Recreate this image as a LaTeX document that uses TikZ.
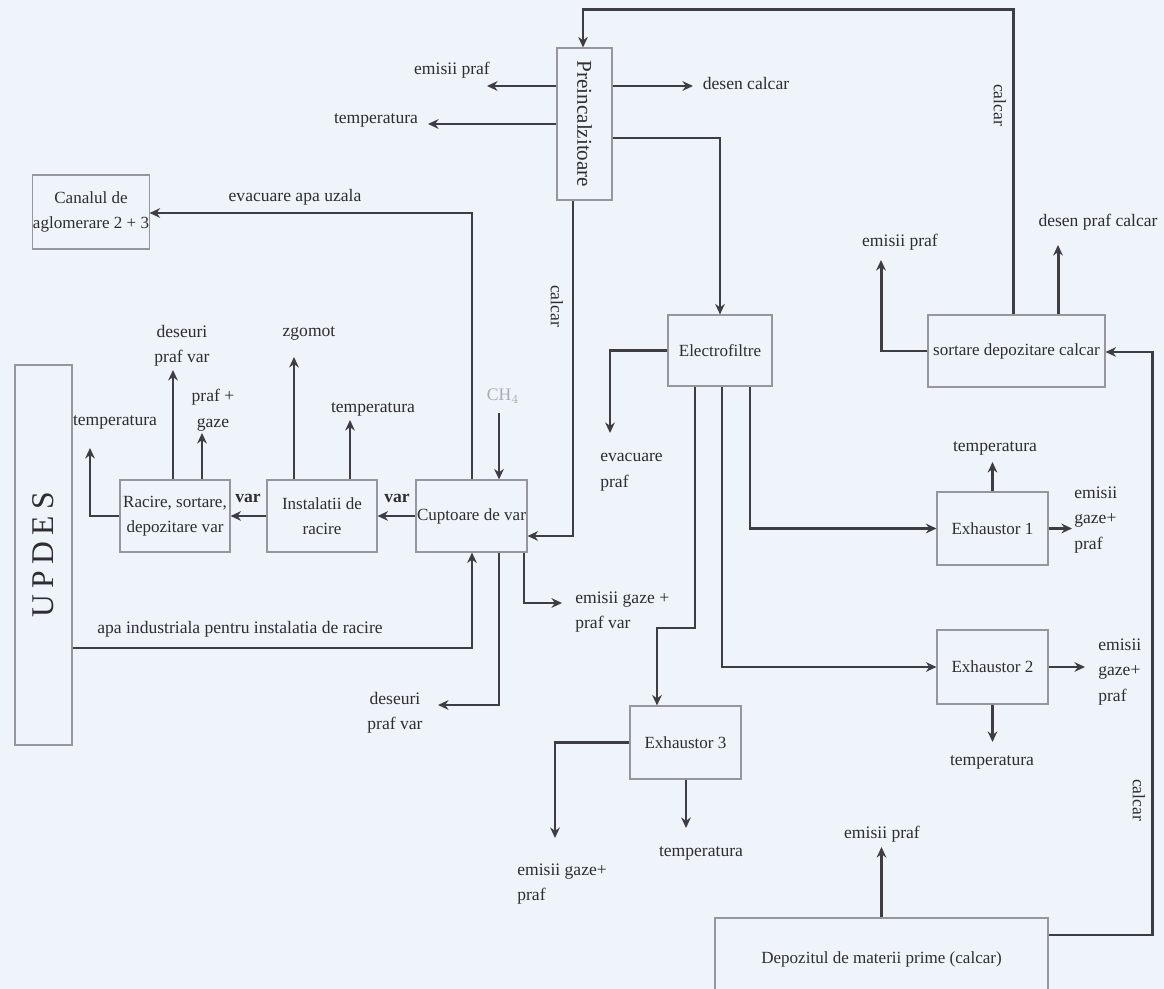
\documentclass[tikz,border=0pt]{standalone}
\usepackage{fontspec}
\setmainfont{Liberation Serif}
\usepackage{graphicx}
\usetikzlibrary{arrows.meta}
\definecolor{paperColor}{RGB}{239,243,250}
\definecolor{lineColor}{RGB}{62,62,66}
\definecolor{boxColor}{RGB}{150,150,156}
\definecolor{textColor}{RGB}{45,45,50}
\definecolor{faintColor}{RGB}{170,170,178}
\tikzstyle{sheet} = [x = .02cm, y = -.02cm]
\tikzstyle{processBox} = [draw=boxColor, line width=.6pt, fill=paperColor, inner sep=0pt, align=center, text=textColor, font=\fontsize{9.7}{14.5}\selectfont]
\tikzstyle{flowLine} = [color=lineColor, line width=1.7pt]
\tikzstyle{flowArrow} = [flowLine, -{Stealth[length=6pt, width=5.5pt]}]
\tikzstyle{flowLabel} = [text=textColor, inner sep=0pt, align=center, font=\fontsize{10}{14.5}\selectfont]
\tikzstyle{flowLabelLeft} = [flowLabel, align=left, anchor=west]
\tikzstyle{verticalLabel} = [flowLabel, rotate=-90]
\tikzset{boxSize/.style 2 args={minimum width=#1*.02cm, minimum height=#2*.02cm}}
\newcommand{\freeEnd}[2]{\coordinate (#1) at (#2);}

\begin{document}
\begin{tikzpicture}[sheet]
  \fill [paperColor] (0,0) rectangle (1164,989);
  \useasboundingbox (0,0) rectangle (1164,989);

  % boxes
  \node [processBox, boxSize={112}{74}] (canal) at (91,212) {Canalul de\\aglomerare 2 + 3};
  \node [processBox, boxSize={55}{152}] (preinc) at (584.5,124) {\rotatebox{-90}{\large Preincalzitoare}};
  \node [processBox, boxSize={177}{72}] (sortare) at (1016.5,351) {sortare depozitare calcar};
  \node [processBox, boxSize={104}{71}] (electro) at (720,350.5) {Electrofiltre};
  \node [processBox, boxSize={57}{380}] (updes) at (43.5,555) {\rotatebox{90}{\fontsize{18}{20}\selectfont U\hspace{.2em}P\hspace{.2em}D\hspace{.2em}E\hspace{.2em}S}};
  \node [processBox, boxSize={110}{72}] (racire) at (175,516) {Racire, sortare,\\depozitare var};
  \node [processBox, boxSize={110}{72}] (instal) at (322,516) {Instalatii de\\racire};
  \node [processBox, boxSize={111}{72}] (cuptor) at (471.5,516) {Cuptoare de var};
  \node [processBox, boxSize={111}{73}] (exhOne) at (992.5,528.5) {Exhaustor 1};
  \node [processBox, boxSize={111}{74}] (exhTwo) at (992.5,667) {Exhaustor 2};
  \node [processBox, boxSize={111}{73}] (exhThree) at (685.5,742.5) {Exhaustor 3};
  \node [processBox, boxSize={333}{82}] (depozit) at (881.5,959) {Depozitul de materii prime (calcar)};

  % turning points and free ends
  \freeEnd{feedRight}{1013,10}
  \freeEnd{feedLeft}{583,10}
  \freeEnd{preEmisiiTip}{487,86}
  \freeEnd{preTempTip}{428,124}
  \freeEnd{preDesenTip}{693,86}
  \freeEnd{preElectroTurn}{720,138}
  \freeEnd{calcarTurn}{573,536}
  \freeEnd{evacTurn}{472,213}
  \freeEnd{chStart}{499,413}
  \freeEnd{racTempTip}{90,448}
  \freeEnd{racDeseuriTip}{173,370}
  \freeEnd{racPrafTip}{202,433}
  \freeEnd{instZgomotTip}{294,357}
  \freeEnd{instTempTip}{350,420}
  \freeEnd{apaTurn}{472,648}
  \freeEnd{cupDeseuriTurn}{499,705}
  \freeEnd{cupDeseuriTip}{438,705}
  \freeEnd{cupEmisiiTurn}{524,603}
  \freeEnd{cupEmisiiTip}{562,603}
  \freeEnd{elEvacTip}{610,433}
  \freeEnd{exhThreeTurnA}{695,628}
  \freeEnd{exhThreeTurnB}{657,628}
  \freeEnd{exhTwoTurn}{722,667}
  \freeEnd{exhOneTurn}{750,528.5}
  \freeEnd{exhOneTempTip}{992.5,462}
  \freeEnd{exhOneGasTip}{1072,528.5}
  \freeEnd{exhTwoGasTip}{1085,667}
  \freeEnd{exhTwoTempTip}{992.5,742}
  \freeEnd{exhThreeGasTurn}{555,742.5}
  \freeEnd{exhThreeGasTip}{555,838}
  \freeEnd{exhThreeTempTip}{686,828}
  \freeEnd{sorEmisiiTip}{881,260}
  \freeEnd{sorDesenTip}{1058,245}
  \freeEnd{depEmisiiTip}{881.5,847}
  \freeEnd{depTurnA}{1152,935}
  \freeEnd{depTurnB}{1152,352}

  % flows
  \draw [flowArrow] (sortare.north -| feedRight) -- (feedRight) -- (feedLeft) -- (preinc.north -| feedLeft);
  \draw [flowArrow] (preinc.west |- preEmisiiTip) -- (preEmisiiTip);
  \draw [flowArrow] (preinc.west |- preTempTip) -- (preTempTip);
  \draw [flowArrow] (preinc.east |- preDesenTip) -- (preDesenTip);
  \draw [flowArrow] (preinc.east |- preElectroTurn) -- (preElectroTurn) -- (electro.north);
  \draw [flowArrow] (preinc.south -| calcarTurn) -- (calcarTurn) -- (cuptor.east |- calcarTurn);
  \draw [flowArrow] (cuptor.north -| evacTurn) -- (evacTurn) -- (canal.east |- evacTurn);
  \draw [flowArrow] (chStart) -- (cuptor.north -| chStart);
  \draw [flowArrow] (cuptor.west) -- (instal.east);
  \draw [flowArrow] (instal.west) -- (racire.east);
  \draw [flowArrow] (racire.west) -| (racTempTip);
  \draw [flowArrow] (racire.north -| racDeseuriTip) -- (racDeseuriTip);
  \draw [flowArrow] (racire.north -| racPrafTip) -- (racPrafTip);
  \draw [flowArrow] (instal.north -| instZgomotTip) -- (instZgomotTip);
  \draw [flowArrow] (instal.north -| instTempTip) -- (instTempTip);
  \draw [flowArrow] (updes.east |- apaTurn) -- (apaTurn) -- (cuptor.south -| apaTurn);
  \draw [flowArrow] (cuptor.south -| cupDeseuriTurn) -- (cupDeseuriTurn) -- (cupDeseuriTip);
  \draw [flowArrow] (cuptor.south -| cupEmisiiTurn) -- (cupEmisiiTurn) -- (cupEmisiiTip);
  \draw [flowArrow] (electro.west) -| (elEvacTip);
  \draw [flowArrow] (electro.south -| exhThreeTurnA) -- (exhThreeTurnA) -- (exhThreeTurnB) -- (exhThree.north -| exhThreeTurnB);
  \draw [flowArrow] (electro.south -| exhTwoTurn) -- (exhTwoTurn) -- (exhTwo.west);
  \draw [flowArrow] (electro.south -| exhOneTurn) -- (exhOneTurn) -- (exhOne.west);
  \draw [flowArrow] (exhOne.north) -- (exhOneTempTip);
  \draw [flowArrow] (exhOne.east) -- (exhOneGasTip);
  \draw [flowArrow] (exhTwo.east) -- (exhTwoGasTip);
  \draw [flowArrow] (exhTwo.south) -- (exhTwoTempTip);
  \draw [flowArrow] (exhThree.west) -- (exhThreeGasTurn) -- (exhThreeGasTip);
  \draw [flowArrow] (exhThree.south -| exhThreeTempTip) -- (exhThreeTempTip);
  \draw [flowArrow] (sortare.west) -| (sorEmisiiTip);
  \draw [flowArrow] (sortare.north -| sorDesenTip) -- (sorDesenTip);
  \draw [flowArrow] (depozit.north) -- (depEmisiiTip);
  \draw [flowArrow] (depozit.east |- depTurnA) -- (depTurnA) -- (depTurnB) -- (sortare.east |- depTurnB);

  % labels
  \node [verticalLabel] (feedText) at (1000,105) {calcar};
  \node [flowLabel] (preEmisiiText) at (452,70) {emisii praf};
  \node [flowLabel] (preTempText) at (376,120) {temperatura};
  \node [flowLabel] (preDesenText) at (746,83) {desen calcar};
  \node [verticalLabel] (calcarText) at (557,306) {calcar};
  \node [flowLabel] (evacText) at (295,197) {evacuare apa uzala};
  \node [flowLabel, text=faintColor] (chText) at (503,396) {CH$_4$};
  \node [flowLabel, font=\bfseries] (varRightText) at (397,498) {var};
  \node [flowLabel, font=\bfseries] (varLeftText) at (248,498) {var};
  \node [flowLabel] (racTempText) at (115,422) {temperatura};
  \node [flowLabel] (racDeseuriText) at (182,346) {deseuri\\praf var};
  \node [flowLabel] (racPrafText) at (213,410) {praf +\\gaze};
  \node [flowLabel] (instZgomotText) at (309,333) {zgomot};
  \node [flowLabel] (instTempText) at (373,409) {temperatura};
  \node [flowLabel] (apaText) at (240,629) {apa industriala pentru instalatia de racire};
  \node [flowLabel] (cupDeseuriText) at (395,713) {deseuri\\praf var};
  \node [flowLabelLeft] (cupEmisiiText) at (575,612) {emisii gaze +\\praf var};
  \node [flowLabelLeft] (elEvacText) at (600,472) {evacuare\\praf};
  \node [flowLabel] (exhOneTempText) at (995,448) {temperatura};
  \node [flowLabelLeft] (exhOneGasText) at (1074,520) {emisii\\gaze+\\praf};
  \node [flowLabelLeft] (exhTwoGasText) at (1098,672) {emisii\\gaze+\\praf};
  \node [flowLabel] (exhTwoTempText) at (992,762) {temperatura};
  \node [flowLabelLeft] (exhThreeGasText) at (517,884) {emisii gaze+\\praf};
  \node [flowLabel] (exhThreeTempText) at (701,853) {temperatura};
  \node [flowLabel] (sorEmisiiText) at (900,242) {emisii praf};
  \node [flowLabel] (sorDesenText) at (1098,222) {desen praf calcar};
  \node [flowLabel] (depEmisiiText) at (882,834) {emisii praf};
  \node [verticalLabel] (depCalcarText) at (1139,800) {calcar};
\end{tikzpicture}
\end{document}
